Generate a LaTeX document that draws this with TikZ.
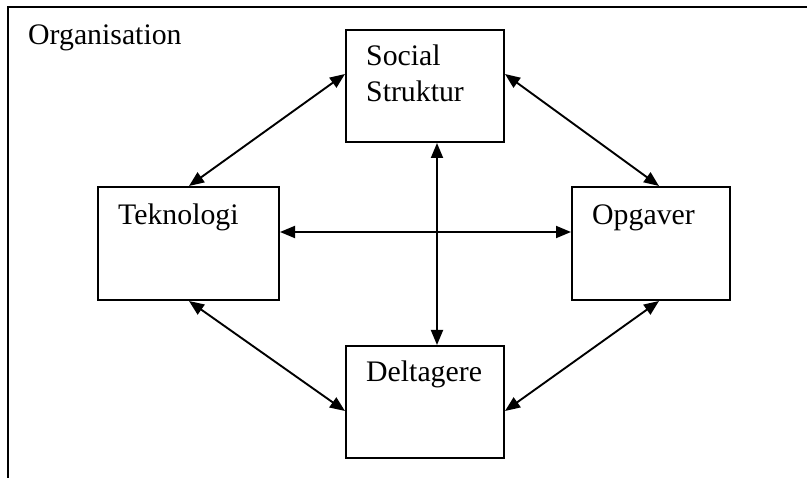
\documentclass[tikz,border=0pt]{standalone}
\usepackage{fontspec}
\setmainfont{Liberation Serif}
\usetikzlibrary{arrows.meta}
\begin{document}
\begin{tikzpicture}[x=1pt,y=-1pt,
  box/.style={draw, line width=2pt, rectangle, inner sep=0pt},
  lbl/.style={inner sep=0pt, anchor=base west, font=\fontsize{29.8}{34}\selectfont},
  link/.style={line width=1.9pt, {Triangle[length=15pt,width=12pt]}-{Triangle[length=15pt,width=12pt]}}]
\useasboundingbox (0,0) rectangle (807,478);
% frame
\coordinate (fb) at (8,480);
\coordinate (ftl) at (8,7);
\coordinate (fr) at (809,7);
\draw[line width=2.2pt] (fb) -- (ftl) -- (fr);
% boxes
\node[box, minimum width=158pt, minimum height=112pt] (soc) at (425,86) {};
\node[box, minimum width=181pt, minimum height=113pt] (tek) at (188.5,243.5) {};
\node[box, minimum width=158pt, minimum height=113pt] (opg) at (651,243.5) {};
\node[box, minimum width=158pt, minimum height=112pt] (del) at (425,402) {};
% labels
\node[lbl] (org) at (28,45) {Organisation};
\node[lbl] (soc1) at (366,66) {Social};
\node[lbl] (soc2) at (366,102) {Struktur};
\node[lbl] (tekl) at (118,225) {Teknologi};
\node[lbl] (opgl) at (592,225) {Opgaver};
\node[lbl] (dell) at (366,382) {Deltagere};
% connectors
\draw[link] ([yshift=-45pt]soc.north west) -- ([xshift=92pt]tek.north west);
\draw[link] ([yshift=-45pt]soc.north east) -- ([xshift=88pt]opg.north west);
\draw[link] ([xshift=92pt]tek.south west) -- ([yshift=-66pt]del.north west);
\draw[link] ([xshift=88pt]opg.south west) -- ([yshift=-66pt]del.north east);
\draw[link] ([yshift=-46pt]tek.north east) -- ([yshift=-46pt]opg.north west);
\draw[link] ([xshift=12pt]soc.south) -- ([xshift=12pt]del.north);
\end{tikzpicture}
\end{document}
